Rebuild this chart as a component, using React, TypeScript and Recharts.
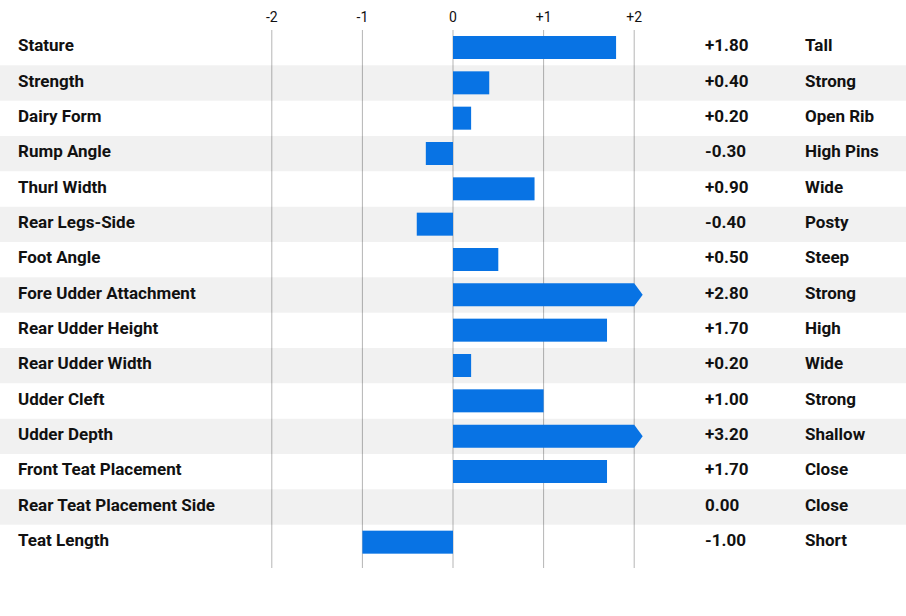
import React from 'react';
import { BarChart, Bar, XAxis, YAxis, CartesianGrid, ReferenceArea } from 'recharts';

// Linear type traits, one row each
const traits = [
  'Stature',
  'Strength',
  'Dairy Form',
  'Rump Angle',
  'Thurl Width',
  'Rear Legs-Side',
  'Foot Angle',
  'Fore Udder Attachment',
  'Rear Udder Height',
  'Rear Udder Width',
  'Udder Cleft',
  'Udder Depth',
  'Front Teat Placement',
  'Rear Teat Placement Side',
  'Teat Length',
];
const scores = [1.8, 0.4, 0.2, -0.3, 0.9, -0.4, 0.5, 2.8, 1.7, 0.2, 1.0, 3.2, 1.7, 0.0, -1.0];
const descriptors = [
  'Tall',
  'Strong',
  'Open Rib',
  'High Pins',
  'Wide',
  'Posty',
  'Steep',
  'Strong',
  'High',
  'Wide',
  'Strong',
  'Shallow',
  'Close',
  'Close',
  'Short',
];
const xTicks = [-2, -1, 0, 1, 2];
const xTickLabels = ['-2', '-1', '0', '+1', '+2'];
const AXIS_MAX = 2;

const BLUE = '#0873e4';
const FONT = 'Roboto, "Noto Sans", sans-serif';

const chartData = traits.map((name, i) => ({
  name,
  score: scores[i],
  shown: Math.min(scores[i], AXIS_MAX),
}));

// every other row is shaded
const shadedRows = traits.filter((_, i) => i % 2 === 1);

const fmt = (v: number) => (v > 0 ? '+' : '') + v.toFixed(2);

// bar that gets an arrow tip when the score runs past the axis
const ArrowBar = (props: any) => {
  const { x, y, width, height, payload } = props;
  if (!width || Math.abs(width) < 0.5) return null;
  const left = Math.min(x, x + width);
  const w = Math.abs(width);
  if (payload.score > AXIS_MAX) {
    const tip = 8.5;
    const r = left + w;
    const d = `M${left},${y} L${r},${y} L${r + tip},${y + height / 2} L${r},${y + height} L${left},${y + height} Z`;
    return <path d={d} fill={BLUE} />;
  }
  return <rect x={left} y={y} width={w} height={height} fill={BLUE} />;
};

const RowText = (props: any) => {
  const { y, payload } = props;
  const i = traits.indexOf(payload.value);
  const common = { fontFamily: FONT, fontSize: 17, fontWeight: 700, fill: '#111' };
  return (
    <g>
      <text x={18} y={y} dy={3.5} textAnchor="start" {...common}>{traits[i]}</text>
      <text x={705} y={y} dy={3.5} textAnchor="start" {...common}>{fmt(scores[i])}</text>
      <text x={805} y={y} dy={3.5} textAnchor="start" {...common}>{descriptors[i]}</text>
    </g>
  );
};

const TopTick = (props: any) => {
  const { x, y, payload } = props;
  const i = xTicks.indexOf(payload.value);
  return (
    <text x={x} y={y} dy={-1} textAnchor="middle" fontFamily={FONT} fontSize={14} fill="#111">
      {xTickLabels[i]}
    </text>
  );
};

export default function App() {
  return (
    <div style={{ position: 'absolute', left: 0, top: 0, width: 906, height: 616, background: '#fff' }}>
      <BarChart
        width={906}
        height={616}
        data={chartData}
        layout="vertical"
        margin={{ top: 0, right: 0, bottom: 48, left: -1 }}
        barSize={23}
      >
        <CartesianGrid horizontal={false} syncWithTicks stroke="#b5b5b5" strokeWidth={1} />
        {shadedRows.map((name) => (
          <ReferenceArea
            key={name}
            y1={name}
            y2={name}
            fill="#000"
            fillOpacity={0.055}
            stroke="none"
          />
        ))}
        <Bar dataKey="shown" shape={ArrowBar} isAnimationActive={false} />
        <XAxis
          type="number"
          orientation="top"
          domain={[-5, 5]}
          ticks={xTicks}
          height={30}
          axisLine={false}
          tickLine={false}
          tickSize={0}
          tickMargin={7}
          tick={TopTick}
        />
        <YAxis
          type="category"
          dataKey="name"
          width={1}
          axisLine={false}
          tickLine={false}
          interval={0}
          padding={{ top: 0, bottom: 8 }}
          tick={RowText}
        />
      </BarChart>
    </div>
  );
}
